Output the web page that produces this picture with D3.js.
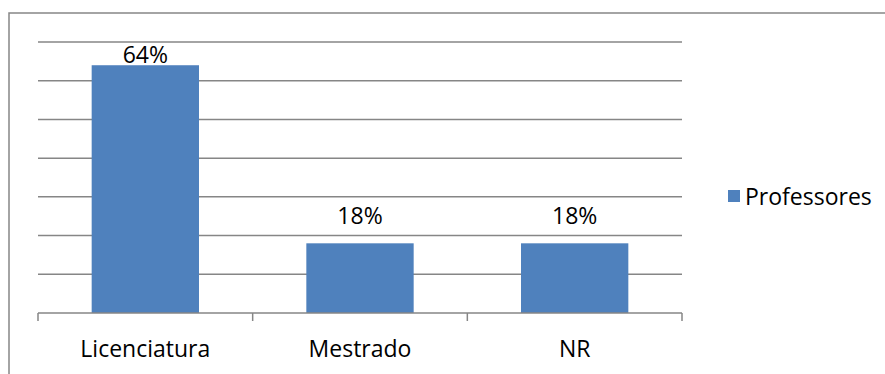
<!DOCTYPE html>
<html>
<head>
<meta charset="utf-8">
<script src="https://cdn.jsdelivr.net/npm/d3@7"></script>
<style>
  html, body { margin: 0; padding: 0; background: #fff; }
  svg { display: block; }
  text { font-family: "Open Sans", "Liberation Sans", sans-serif; fill: #000; }
</style>
</head>
<body>
<svg id="chart" width="885" height="374"></svg>
<script>
// Formação dos professores
const categories = ["Licenciatura", "Mestrado", "NR"];
const values = [0.64, 0.18, 0.18];
const seriesName = "Professores";
const gridTicks = [0.1, 0.2, 0.3, 0.4, 0.5, 0.6, 0.7];

const W = 885, H = 374;
const margin = { top: 42, left: 38, right: 203, bottom: 61 };
const plotW = W - margin.left - margin.right;
const plotH = H - margin.top - margin.bottom;
const barColor = "#4F81BD";
const lineColor = "#868686";
const fontSize = 23;

const svg = d3.select("#chart");

// outer chart frame (extends past the right and bottom edges)
svg.append("rect")
  .attr("x", 9).attr("y", 13)
  .attr("width", W + 20).attr("height", H + 20)
  .attr("fill", "none").attr("stroke", lineColor).attr("stroke-width", 1.5);

const g = svg.append("g").attr("transform", `translate(${margin.left},${margin.top})`);

const x = d3.scaleBand().domain(categories).range([0, plotW]).paddingInner(0.5).paddingOuter(0.25);
const xBoundary = d3.scaleLinear().domain([0, categories.length]).range([0, plotW]);
const y = d3.scaleLinear().domain([0, 0.7]).range([plotH, 0]);

// horizontal gridlines
g.append("g")
  .selectAll("line")
  .data(gridTicks)
  .join("line")
  .attr("x1", 0).attr("x2", plotW)
  .attr("y1", d => y(d)).attr("y2", d => y(d))
  .attr("stroke", lineColor).attr("stroke-width", 1.5);

// bars
const data = categories.map((c, i) => ({ cat: c, val: values[i] }));
g.append("g")
  .selectAll("rect")
  .data(data)
  .join("rect")
  .attr("x", d => x(d.cat))
  .attr("width", x.bandwidth())
  .attr("y", d => y(d.val))
  .attr("height", d => y(0) - y(d.val))
  .attr("fill", barColor);

// category axis: baseline plus boundary tick marks
const axisG = g.append("g").attr("transform", `translate(0,${plotH})`);
axisG.append("line")
  .attr("x1", 0).attr("x2", plotW).attr("y1", 0).attr("y2", 0)
  .attr("stroke", lineColor).attr("stroke-width", 1.5);
axisG.selectAll("line.tick")
  .data(d3.range(categories.length + 1))
  .join("line")
  .attr("class", "tick")
  .attr("x1", d => xBoundary(d)).attr("x2", d => xBoundary(d))
  .attr("y1", 0).attr("y2", 8)
  .attr("stroke", lineColor).attr("stroke-width", 1.5);
axisG.selectAll("text")
  .data(categories)
  .join("text")
  .attr("x", d => x(d) + x.bandwidth() / 2)
  .attr("y", 44)
  .attr("text-anchor", "middle")
  .attr("font-size", fontSize)
  .text(d => d);

// value labels
const fmt = d3.format(".0%");
g.append("g")
  .selectAll("text")
  .data(data)
  .join("text")
  .attr("x", d => x(d.cat) + x.bandwidth() / 2)
  .attr("y", d => Math.max(y(d.val) - 19, 21))
  .attr("text-anchor", "middle")
  .attr("font-size", fontSize)
  .text(d => fmt(d.val));

// legend
const legend = svg.append("g").attr("transform", "translate(728,190)");
legend.append("rect").attr("x", 0).attr("y", 0).attr("width", 12).attr("height", 12).attr("fill", barColor);
legend.append("text").attr("x", 17).attr("y", 15).attr("font-size", fontSize).text(seriesName);
</script>
</body>
</html>
